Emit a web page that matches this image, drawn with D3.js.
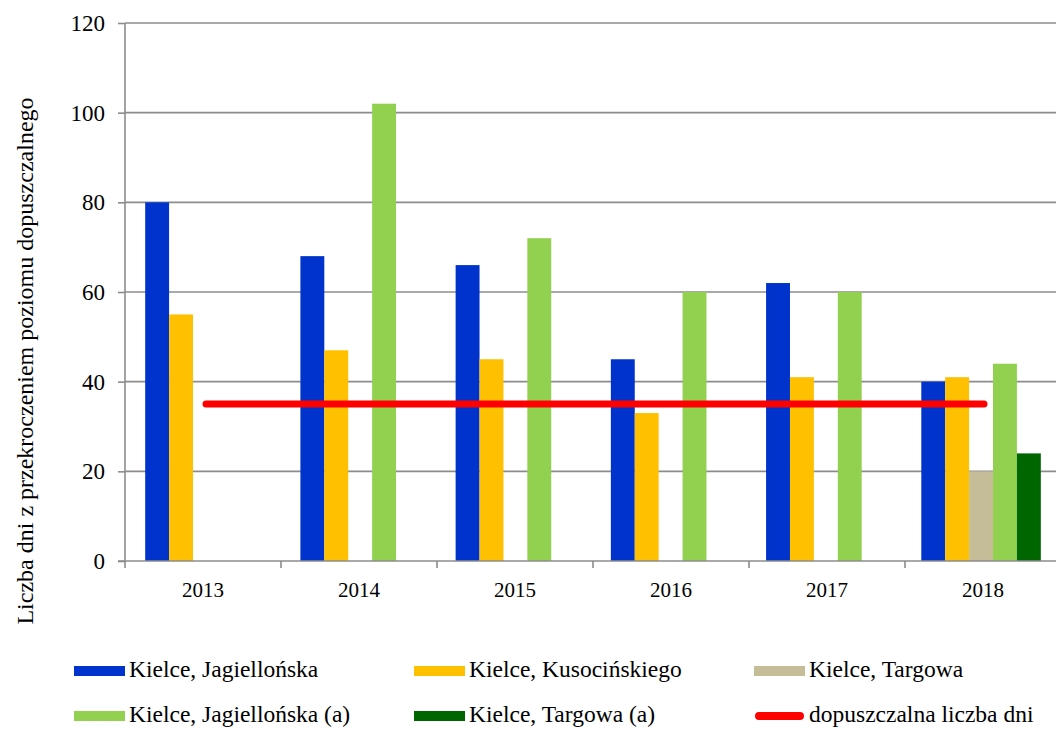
<!DOCTYPE html>
<html><head><meta charset="utf-8">
<script src="https://cdn.jsdelivr.net/npm/d3@7"></script>
<style>body{margin:0;background:#fff}svg{display:block}svg text{font-family:"Liberation Serif","Times New Roman",serif}</style>
</head><body>
<svg id="c" width="1056" height="729"></svg>
<script>
const years = ["2013","2014","2015","2016","2017","2018"];
const seriesNames = ["Kielce, Jagiellońska","Kielce, Kusocińskiego","Kielce, Targowa","Kielce, Jagiellońska (a)","Kielce, Targowa (a)"];
const jagiellonska = [80,68,66,45,62,40];
const kusocinskiego = [55,47,45,33,41,41];
const targowa = [null,null,null,null,null,20];
const jagiellonskaA = [null,102,72,60,60,44];
const targowaA = [null,null,null,null,null,24];
const limitName = "dopuszczalna liczba dni";
const limitValue = 35;
const yTicks = [0,20,40,60,80,100,120];
const yLabel = "Liczba dni z przekroczeniem  poziomu dopuszczalnego";
const colors = ["#0033cc","#ffc000","#c4bd97","#92d050","#006600"];
const limitColor = "#ff0000";

const seriesValues = [jagiellonska,kusocinskiego,targowa,jagiellonskaA,targowaA];
const svg = d3.select("#c");
const L=125, R=1061, T=23, B=561;

const x = d3.scaleBand().domain(years).range([L,R]).paddingInner(0.23).paddingOuter(0.13);
const xs = d3.scaleBand().domain(d3.range(5)).range([0,x.bandwidth()]);
const y = d3.scaleLinear().domain([0,120]).range([B,T]);
const step = (R-L)/years.length;
const center = yr => L + years.indexOf(yr)*step + step/2;

// gridlines
svg.append("g").selectAll("line").data(yTicks.filter(d=>d>0)).join("line")
  .attr("x1",L).attr("x2",1056).attr("y1",d=>y(d)).attr("y2",d=>y(d))
  .attr("stroke","#8c8c8c").attr("stroke-width",1.6);

// bars
seriesValues.forEach((vals,si)=>{
  svg.append("g").selectAll("rect").data(years.map((yr,i)=>({yr,v:vals[i]})).filter(d=>d.v!=null)).join("rect")
    .attr("x",d=>x(d.yr)+xs(si)).attr("width",xs.bandwidth())
    .attr("y",d=>y(d.v)).attr("height",d=>B-y(d.v)).attr("fill",colors[si]);
});

// y axis
const ya = d3.axisLeft(y).tickValues(yTicks).tickSize(7).tickPadding(13);
const gy = svg.append("g").attr("transform",`translate(${L},0)`).call(ya);
gy.attr("font-family",null);
gy.select(".domain").attr("stroke","#8c8c8c").attr("stroke-width",1.6).attr("d",`M0,${B}V${T}`);
gy.selectAll(".tick line").attr("stroke","#8c8c8c").attr("stroke-width",1.6);
gy.selectAll(".tick text").attr("font-size",23).attr("fill","#000");

// x axis
const gx = svg.append("g").attr("transform",`translate(0,${B})`);
gx.append("line").attr("x1",L-7).attr("x2",1056).attr("stroke","#8c8c8c").attr("stroke-width",1.6);
gx.selectAll(".tk").data(d3.range(years.length+1)).join("line")
  .attr("x1",i=>L+i*step).attr("x2",i=>L+i*step).attr("y1",0).attr("y2",7)
  .attr("stroke","#8c8c8c").attr("stroke-width",1.6);
gx.selectAll("text").data(years).join("text")
  .attr("x",d=>center(d)).attr("y",36)
  .attr("text-anchor","middle").attr("font-size",21).text(d=>d);

// limit line
svg.append("line")
  .attr("x1",center(years[0])+3).attr("x2",center(years[years.length-1])+1)
  .attr("y1",y(limitValue)).attr("y2",y(limitValue))
  .attr("stroke",limitColor).attr("stroke-width",7).attr("stroke-linecap","round");

// y label
svg.append("text").attr("transform","translate(33,361) rotate(-90)")
  .attr("text-anchor","middle").attr("font-size",24).text(yLabel);

// legend
const legendItems = seriesNames.map((n,i)=>({n,c:colors[i],line:false})).concat([{n:limitName,c:limitColor,line:true}]);
const lx=[74,414,754], ly=[671,716];
legendItems.forEach((it,i)=>{
  const gx0 = lx[i%3], gy0 = ly[Math.floor(i/3)];
  if(it.line){
    svg.append("line").attr("x1",gx0+5).attr("x2",gx0+46).attr("y1",gy0).attr("y2",gy0)
      .attr("stroke",it.c).attr("stroke-width",8).attr("stroke-linecap","round");
  } else {
    svg.append("rect").attr("x",gx0).attr("y",gy0-5).attr("width",51).attr("height",10).attr("fill",it.c);
  }
  svg.append("text").attr("x",gx0+55).attr("y",gy0+6).attr("font-size",23.5).text(it.n);
});
</script>
</body></html>
